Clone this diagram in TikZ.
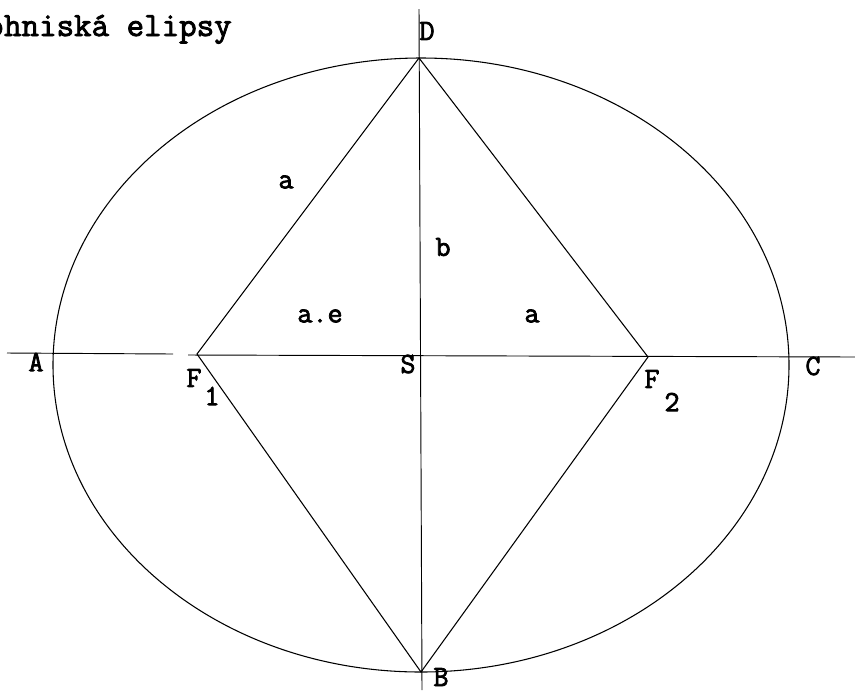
\documentclass[tikz,border=0pt]{standalone}
\usepackage{fontspec}
\newfontfamily\tw[AutoFakeBold=2.5]{Latin Modern Mono}
\begin{document}
\begin{tikzpicture}[x=0.75pt,y=-0.75pt,line width=.8pt,
 lab/.style={inner sep=0pt,font=\tw\bfseries\fontsize{22pt}{24pt}\selectfont},
 axis/.style={line width=.7pt}]
\useasboundingbox (0,0) rectangle (855,690);
% axes and points
\coordinate (ax1) at (7,353);
\coordinate (ax2) at (173,354);
\coordinate (ax3) at (188,355);
\coordinate (ax4) at (855,357);
\coordinate (ay1) at (419,9);
\coordinate (ay2) at (422,690);
\coordinate (D) at (419,58);
\coordinate (B) at (421,672);
\coordinate (F1) at (197,354);
\coordinate (F2) at (648,357);
\draw[axis] (ax1) -- (ax2);
\draw[axis] (ax3) -- (ax4);
\draw[axis] (ay1) -- (ay2);
\draw (421,365) ellipse [x radius=368,y radius=307];
\draw (D) -- (F1) -- (B) -- (F2) -- cycle;
% labels
\node[lab,font=\tw\bfseries\fontsize{25.5pt}{28pt}\selectfont,anchor=base west] (title) at (-14,36) {ohnisk\'a elipsy};
\node[lab] (lblD) at (427,31) {D};
\node[lab] (lblA) at (36,362) {A};
\node[lab] (lblS) at (408,364) {S};
\node[lab] (lblC) at (813,366) {C};
\node[lab,anchor=base] (lblB) at (441,686) {B};
\node[lab] (lblF1) at (194,378) {F};
\node[lab] (lblF1s) at (212,396) {1};
\node[lab] (lblF2) at (652,379) {F};
\node[lab] (lblF2s) at (672,402) {2};
\node[lab] (lbla1) at (286,182) {a};
\node[lab] (lblb) at (443,247) {b};
\node[lab] (lblae) at (320,316) {a.e};
\node[lab] (lbla2) at (532,316) {a};
\end{tikzpicture}
\end{document}
